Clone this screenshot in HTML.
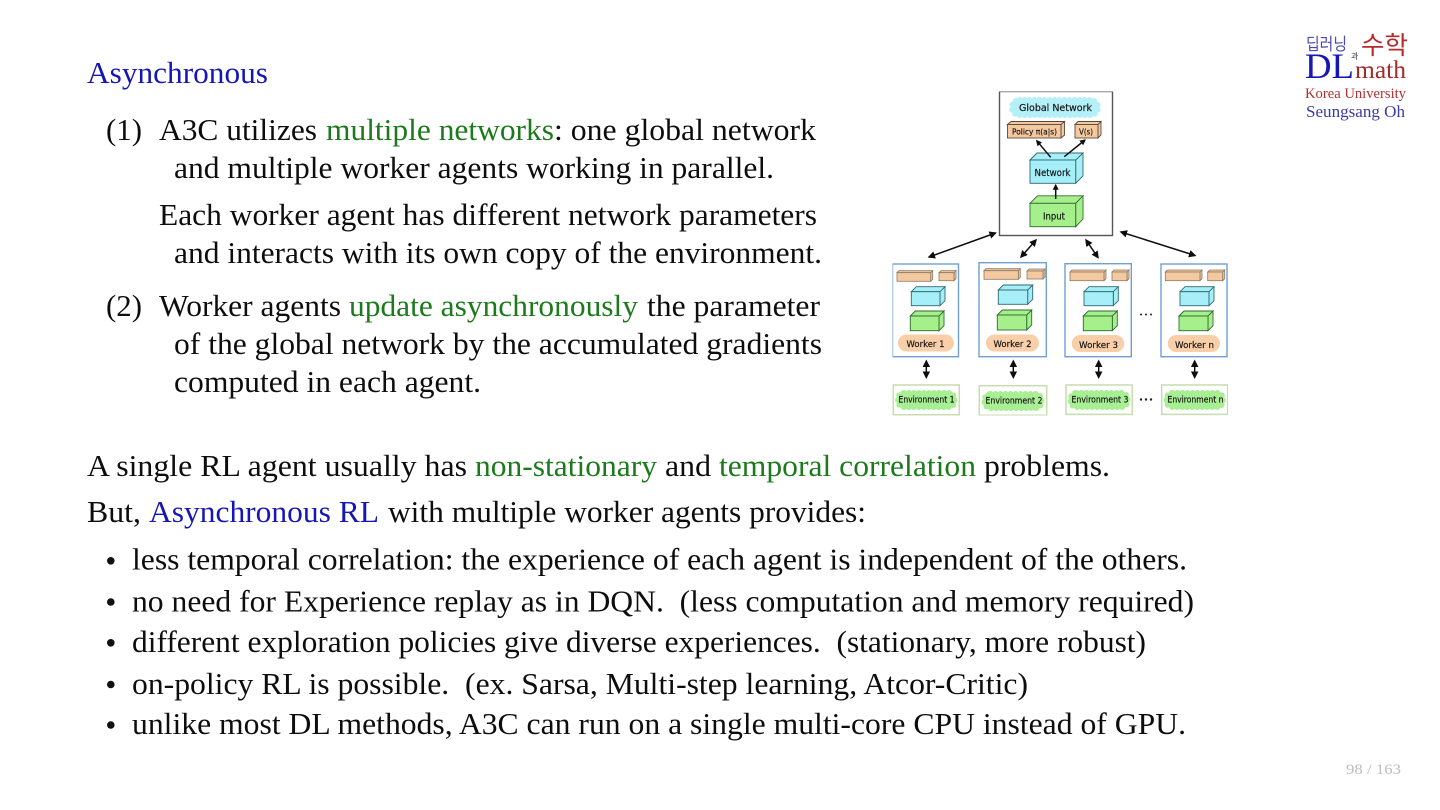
<!DOCTYPE html>
<html lang="en">
<head>
<meta charset="utf-8">
<title>Asynchronous</title>
<style>
html,body{margin:0;padding:0;background:#fff;width:1440px;height:810px;overflow:hidden}
svg{display:block}
.t text{font-family:"Liberation Serif",serif;font-size:30.8px;fill:#101010;white-space:pre}
.t text.g{fill:#1a7a1a}
.t text.b{fill:#1616b4}
.o{fill:#f5c9a0;stroke:#5a4a3a;stroke-width:.9}
.ob{fill:#f5c9a0;stroke:#8a7a62;stroke-width:.8}
.c{fill:#a6eef8;stroke:#2f6a72;stroke-width:.9}
.gr{fill:#a6f08c;stroke:#2f6a32;stroke-width:.9}
.h{font-family:"DejaVu Sans","Liberation Sans",sans-serif;fill:#111;stroke:#111;stroke-width:.15}
.wb{fill:none;stroke:#6f9fd0;stroke-width:1.4}
.eb{fill:#fff;stroke:#c9dcae;stroke-width:1.5}
.ar{stroke:#111;fill:none;stroke-width:1.5}
.sc{stroke-width:6;stroke-linecap:round;stroke-dasharray:0 5}
</style>
</head>
<body>
<svg width="1440" height="810" viewBox="0 0 1440 810" xmlns="http://www.w3.org/2000/svg">
<defs>
<marker id="a" viewBox="0 0 10 10" refX="8" refY="5" markerWidth="6" markerHeight="6" markerUnits="userSpaceOnUse" orient="auto-start-reverse"><path d="M0 0L10 5L0 10Z" fill="#111"/></marker>
<marker id="a2" viewBox="0 0 10 10" refX="8" refY="5" markerWidth="7.5" markerHeight="7.5" markerUnits="userSpaceOnUse" orient="auto-start-reverse"><path d="M0 0L10 5L0 10Z" fill="#111"/></marker>
<filter id="s" x="0" y="0" width="100%" height="100%"><feGaussianBlur stdDeviation=".32"/></filter>
<filter id="s2" x="0" y="0" width="100%" height="100%"><feGaussianBlur stdDeviation=".3"/></filter>
</defs>

<g class="t" filter="url(#s2)">
<text x="87" y="83.200" class="b" textLength="181" lengthAdjust="spacingAndGlyphs">Asynchronous</text>

<text x="106" y="140.200" textLength="36" lengthAdjust="spacingAndGlyphs">(1)</text>
<text x="159" y="140.200" textLength="158" lengthAdjust="spacingAndGlyphs">A3C utilizes</text>
<text x="326" y="140.200" class="g" textLength="228" lengthAdjust="spacingAndGlyphs">multiple networks</text>
<text x="554" y="140.200" textLength="262" lengthAdjust="spacingAndGlyphs">: one global network</text>
<text x="174" y="178.200" textLength="600" lengthAdjust="spacingAndGlyphs">and multiple worker agents working in parallel.</text>
<text x="159" y="225.200" textLength="658" lengthAdjust="spacingAndGlyphs">Each worker agent has different network parameters</text>
<text x="174" y="263.200" textLength="648" lengthAdjust="spacingAndGlyphs">and interacts with its own copy of the environment.</text>

<text x="106" y="316.200" textLength="36" lengthAdjust="spacingAndGlyphs">(2)</text>
<text x="159" y="316.200" textLength="182" lengthAdjust="spacingAndGlyphs">Worker agents</text>
<text x="349" y="316.200" class="g" textLength="289" lengthAdjust="spacingAndGlyphs">update asynchronously</text>
<text x="647" y="316.200" textLength="173" lengthAdjust="spacingAndGlyphs">the parameter</text>
<text x="174" y="354.200" textLength="648" lengthAdjust="spacingAndGlyphs">of the global network by the accumulated gradients</text>
<text x="174" y="392.200" textLength="307" lengthAdjust="spacingAndGlyphs">computed in each agent.</text>

<text x="87" y="476.200" textLength="380" lengthAdjust="spacingAndGlyphs">A single RL agent usually has</text>
<text x="475" y="476.200" class="g" textLength="182" lengthAdjust="spacingAndGlyphs">non-stationary</text>
<text x="665" y="476.200" textLength="46" lengthAdjust="spacingAndGlyphs">and</text>
<text x="719" y="476.200" class="g" textLength="257" lengthAdjust="spacingAndGlyphs">temporal correlation</text>
<text x="984" y="476.200" textLength="126" lengthAdjust="spacingAndGlyphs">problems.</text>
<text x="87" y="522.200" textLength="54" lengthAdjust="spacingAndGlyphs">But,</text>
<text x="149" y="522.200" class="b" textLength="230" lengthAdjust="spacingAndGlyphs">Asynchronous RL</text>
<text x="388" y="522.200" textLength="478" lengthAdjust="spacingAndGlyphs">with multiple worker agents provides:</text>

<text x="132" y="569.700" textLength="1055" lengthAdjust="spacingAndGlyphs">less temporal correlation: the experience of each agent is independent of the others.</text>
<text x="132" y="611.700" textLength="1062" lengthAdjust="spacingAndGlyphs">no need for Experience replay as in DQN.  (less computation and memory required)</text>
<text x="132" y="652.200" textLength="1014" lengthAdjust="spacingAndGlyphs">different exploration policies give diverse experiences.  (stationary, more robust)</text>
<text x="132" y="694.200" textLength="896" lengthAdjust="spacingAndGlyphs">on-policy RL is possible.  (ex. Sarsa, Multi-step learning, Atcor-Critic)</text>
<text x="132" y="734.200" textLength="1054" lengthAdjust="spacingAndGlyphs">unlike most DL methods, A3C can run on a single multi-core CPU instead of GPU.</text>
</g>
<g fill="#101010">
<circle cx="110.800" cy="560.800" r="3.800"/>
<circle cx="110.800" cy="602" r="3.800"/>
<circle cx="110.800" cy="642.800" r="3.800"/>
<circle cx="110.800" cy="684.500" r="3.800"/>
<circle cx="110.800" cy="725" r="3.800"/>
</g>
<text x="1346" y="774" font-family="Liberation Serif,serif" font-size="15" fill="#bcbcbc" textLength="55" lengthAdjust="spacingAndGlyphs">98 / 163</text>

<!-- logo -->
<g filter="url(#s2)">
<text x="1306" y="50" font-family="Noto Sans CJK KR,NanumGothic,sans-serif" font-size="17" fill="#4a4ab8" textLength="41" lengthAdjust="spacingAndGlyphs">딥러닝</text>
<text x="1361" y="54" font-family="Noto Sans CJK KR,NanumGothic,sans-serif" font-size="25" fill="#b52a2a" textLength="47" lengthAdjust="spacingAndGlyphs">수학</text>
<text x="1351" y="59" font-family="Noto Sans CJK KR,NanumGothic,sans-serif" font-size="8" fill="#333">과</text>
<text x="1305" y="78" font-family="Liberation Serif,serif" font-size="36" fill="#1616b4" textLength="49" lengthAdjust="spacingAndGlyphs">DL</text>
<text x="1355" y="78" font-family="Liberation Serif,serif" font-size="25.500" fill="#a52a2a" textLength="51" lengthAdjust="spacingAndGlyphs">math</text>
<text x="1305" y="98" font-family="Liberation Serif,serif" font-size="14.600" fill="#b03030" textLength="101" lengthAdjust="spacingAndGlyphs">Korea University</text>
<text x="1306" y="117" font-family="Liberation Serif,serif" font-size="16.500" fill="#3a3aa8" textLength="99" lengthAdjust="spacingAndGlyphs">Seungsang Oh</text>
</g>

<!-- diagram -->
<g filter="url(#s)">
<rect x="999.500" y="91.500" width="113" height="144" fill="#fff" stroke="#555" stroke-width="1.400"/>
<rect x="1012" y="100" width="86" height="15" rx="7.500" fill="#b5f0f8" stroke="#b5f0f8" class="sc"/>
<rect x="1011" y="99" width="88" height="17" rx="8.500" fill="#b5f0f8"/>
<text x="1019" y="111" class="h" font-size="9.500" stroke-width=".35" textLength="73" lengthAdjust="spacingAndGlyphs">Global Network</text>

<!-- policy -->
<path class="o" d="M1007.500 124.500L1011 121.500H1064.500L1061 124.500ZM1061 124.500L1064.500 121.500V135L1061 138Z"/>
<rect class="o" x="1007.500" y="124.500" width="53.500" height="13.500"/>
<text x="1012" y="134.500" class="h" font-size="7.500" textLength="45" lengthAdjust="spacingAndGlyphs" fill="#554">Policy π(a|s)</text>
<path class="o" d="M1075 124.500L1078 121.500H1101L1098 124.500ZM1098 124.500L1101 121.500V135L1098 138Z"/>
<rect class="o" x="1075" y="124.500" width="23" height="13.500"/>
<text x="1079" y="134.500" class="h" font-size="8" textLength="14" lengthAdjust="spacingAndGlyphs">V(s)</text>

<!-- network -->
<path class="c" d="M1030 160L1037 153H1083L1075.700 160ZM1075.700 160L1083 153V176L1075.700 183.300Z"/>
<rect class="c" x="1030" y="160" width="45.700" height="23.300"/>
<text x="1034.500" y="176" class="h" font-size="9.500" textLength="36" lengthAdjust="spacingAndGlyphs">Network</text>
<!-- input -->
<path class="gr" d="M1030 203.300L1037.500 195.800H1083L1075.700 203.300ZM1075.700 203.300L1083 195.800V219L1075.700 226.700Z"/>
<rect class="gr" x="1030" y="203.300" width="45.700" height="23.400"/>
<text x="1043" y="219.500" class="h" font-size="9.500" textLength="22" lengthAdjust="spacingAndGlyphs">Input</text>

<line class="ar" x1="1050.700" y1="157.300" x2="1036.700" y2="140.700" stroke-width="1.100" marker-end="url(#a)"/>
<line class="ar" x1="1064.300" y1="156.700" x2="1085" y2="140" stroke-width="1.100" marker-end="url(#a)"/>
<line class="ar" x1="1055.700" y1="199" x2="1055.700" y2="185" stroke-width="1.100" marker-end="url(#a)"/>

<!-- big arrows -->
<line class="ar" x1="929" y1="257" x2="995.500" y2="233" marker-start="url(#a2)" marker-end="url(#a2)"/>
<line class="ar" x1="1021" y1="257" x2="1036" y2="240" marker-start="url(#a2)" marker-end="url(#a2)"/>
<line class="ar" x1="1098" y1="257.500" x2="1086" y2="240" marker-start="url(#a2)" marker-end="url(#a2)"/>
<line class="ar" x1="1195" y1="255.500" x2="1121" y2="232" marker-start="url(#a2)" marker-end="url(#a2)"/>

<!-- worker 1 -->
<rect class="wb" x="892.500" y="264" width="66" height="92.700"/>
<path class="ob" d="M897 272.700L899 270.700H932.700L930.700 272.700ZM930.700 272.700L932.700 270.700V279.300L930.700 281.300Z"/><rect class="ob" x="897" y="272.700" width="33.700" height="8.600"/>
<path class="ob" d="M939 272.700L941 270.700H956L954 272.700ZM954 272.700L956 270.700V278.700L954 280.700Z"/><rect class="ob" x="939" y="272.700" width="15" height="8"/>
<path class="c" d="M911.300 291.700L916.300 286.700H945L940 291.700ZM940 291.700L945 286.700V300.700L940 305.700Z"/><rect class="c" x="911.300" y="291.700" width="28.700" height="14"/>
<path class="gr" d="M910.300 316L915.300 311H944L939 316ZM939 316L944 311V325.700L939 330.700Z"/><rect class="gr" x="910.300" y="316" width="28.700" height="14.700"/>
<rect x="898" y="334.500" width="56" height="17" rx="8.500" fill="#f8cfa8"/>
<text x="906.500" y="347" class="h" font-size="9" textLength="38" lengthAdjust="spacingAndGlyphs">Worker 1</text>

<!-- worker 2 -->
<rect class="wb" x="979" y="262.700" width="67.300" height="94"/>
<path class="ob" d="M984 270.700L986 268.700H1020.300L1018.300 270.700ZM1018.300 270.700L1020.300 268.700V277.300L1018.300 279.300Z"/><rect class="ob" x="984" y="270.700" width="34.300" height="8.600"/>
<path class="ob" d="M1027 271L1029 269H1045L1043 271ZM1043 271L1045 269V277L1043 279Z"/><rect class="ob" x="1027" y="271" width="16" height="8"/>
<path class="c" d="M998.300 290L1003.300 285H1032.700L1027.700 290ZM1027.700 290L1032.700 285V299.300L1027.700 304.300Z"/><rect class="c" x="998.300" y="290" width="29.400" height="14.300"/>
<path class="gr" d="M997.300 315L1002.300 310H1031.700L1026.700 315ZM1026.700 315L1031.700 310V325L1026.700 330Z"/><rect class="gr" x="997.300" y="315" width="29.400" height="15"/>
<rect x="986" y="334.500" width="53" height="17" rx="8.500" fill="#f8cfa8"/>
<text x="993.500" y="347" class="h" font-size="9" textLength="38" lengthAdjust="spacingAndGlyphs">Worker 2</text>

<!-- worker 3 -->
<rect class="wb" x="1065" y="263.700" width="66.300" height="93"/>
<path class="ob" d="M1070 272L1072 270H1106L1104 272ZM1104 272L1106 270V278.700L1104 280.700Z"/><rect class="ob" x="1070" y="272" width="34" height="8.700"/>
<path class="ob" d="M1112 272L1114 270H1129L1127 272ZM1127 272L1129 270V278.700L1127 280.700Z"/><rect class="ob" x="1112" y="272" width="15" height="8.700"/>
<path class="c" d="M1084 291.700L1089 286.700H1118.300L1113.300 291.700ZM1113.300 291.700L1118.300 286.700V300.700L1113.300 305.700Z"/><rect class="c" x="1084" y="291.700" width="29.300" height="14"/>
<path class="gr" d="M1083.300 316L1088.300 311H1117.300L1112.300 316ZM1112.300 316L1117.300 311V325.700L1112.300 330.700Z"/><rect class="gr" x="1083.300" y="316" width="29" height="14.700"/>
<rect x="1071.700" y="335" width="52.600" height="17" rx="8.500" fill="#f8cfa8"/>
<text x="1079" y="348" class="h" font-size="9" textLength="39" lengthAdjust="spacingAndGlyphs">Worker 3</text>

<!-- worker n -->
<rect class="wb" x="1161" y="264" width="66" height="92.700"/>
<path class="ob" d="M1165.300 272L1167.300 270H1202L1200 272ZM1200 272L1202 270V278.700L1200 280.700Z"/><rect class="ob" x="1165.300" y="272" width="34.700" height="8.700"/>
<path class="ob" d="M1207.700 272L1209.700 270H1224.700L1222.700 272ZM1222.700 272L1224.700 270V278.700L1222.700 280.700Z"/><rect class="ob" x="1207.700" y="272" width="15" height="8.700"/>
<path class="c" d="M1180 291.700L1185 286.700H1214L1209 291.700ZM1209 291.700L1214 286.700V300.700L1209 305.700Z"/><rect class="c" x="1180" y="291.700" width="29" height="14"/>
<path class="gr" d="M1179 316L1184 311H1213L1208 316ZM1208 316L1213 311V325.700L1208 330.700Z"/><rect class="gr" x="1179" y="316" width="29" height="14.700"/>
<rect x="1167.700" y="335" width="52.300" height="17" rx="8.500" fill="#f8cfa8"/>
<text x="1175" y="348" class="h" font-size="9" textLength="39" lengthAdjust="spacingAndGlyphs">Worker n</text>

<g fill="#222">
<circle cx="1141" cy="314.500" r="1"/><circle cx="1146" cy="314.500" r="1"/><circle cx="1151" cy="314.500" r="1"/>
<circle cx="1141" cy="399.500" r="1.200"/><circle cx="1146" cy="399.500" r="1.200"/><circle cx="1151" cy="399.500" r="1.200"/>
</g>

<!-- vertical arrows -->
<line class="ar" x1="926.300" y1="361" x2="926.300" y2="377.500" stroke-width="1.800" marker-start="url(#a2)" marker-end="url(#a2)"/>
<line class="ar" x1="1013.300" y1="361" x2="1013.300" y2="377.500" stroke-width="1.800" marker-start="url(#a2)" marker-end="url(#a2)"/>
<line class="ar" x1="1098.700" y1="361" x2="1098.700" y2="377.500" stroke-width="1.800" marker-start="url(#a2)" marker-end="url(#a2)"/>
<line class="ar" x1="1194.700" y1="361" x2="1194.700" y2="377.500" stroke-width="1.800" marker-start="url(#a2)" marker-end="url(#a2)"/>

<!-- environments -->
<rect class="eb" x="893.300" y="385" width="66" height="29.700"/>
<rect x="898" y="393" width="56.500" height="14" rx="6" fill="#a8ee94" stroke="#a8ee94" class="sc"/>
<text x="898.500" y="402.500" class="h" font-size="8.500" textLength="56" lengthAdjust="spacingAndGlyphs">Environment 1</text>
<rect class="eb" x="979.300" y="385.700" width="67.400" height="29.600"/>
<rect x="984.500" y="394" width="57" height="14" rx="6" fill="#a8ee94" stroke="#a8ee94" class="sc"/>
<text x="985.500" y="403.500" class="h" font-size="8.500" textLength="57" lengthAdjust="spacingAndGlyphs">Environment 2</text>
<rect class="eb" x="1066" y="385" width="66.300" height="29.400"/>
<rect x="1070.500" y="393" width="57" height="14" rx="6" fill="#a8ee94" stroke="#a8ee94" class="sc"/>
<text x="1071.500" y="402.500" class="h" font-size="8.500" textLength="57" lengthAdjust="spacingAndGlyphs">Environment 3</text>
<rect class="eb" x="1161.700" y="385" width="66" height="29.400"/>
<rect x="1166.500" y="393" width="56.500" height="14" rx="6" fill="#a8ee94" stroke="#a8ee94" class="sc"/>
<text x="1167.500" y="402.500" class="h" font-size="8.500" textLength="56" lengthAdjust="spacingAndGlyphs">Environment n</text>
</g>
</svg>
</body>
</html>
